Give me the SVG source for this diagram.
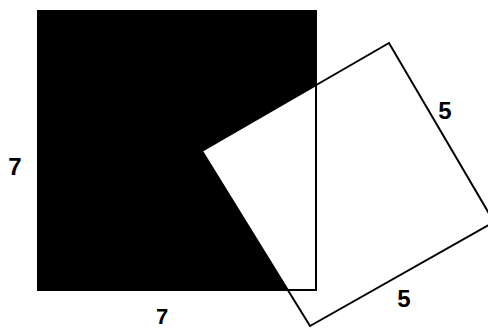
<svg xmlns="http://www.w3.org/2000/svg" width="488" height="329" viewBox="0 0 488 329">
<style>
.lbl{font-family:"Liberation Sans",Arial,sans-serif;font-weight:bold;font-size:24px;fill:#000;text-anchor:middle}
.edge{fill:none;stroke:#000;stroke-width:2}
</style>
<rect width="488" height="329" fill="#fff"/>
<g id="blackSquare">
<rect x="37" y="10" width="279" height="280" fill="#000"/>
</g>
<g id="whiteSquare">
<polygon points="202,151 389,43 494,222 310,326" fill="#fff" stroke="#000" stroke-width="2"/>
</g>
<g id="connectors">
<polyline class="edge" points="316,10 316,290 37,290" stroke-width="1.5"/>
</g>
<g id="labels">
<text class="lbl" x="15" y="175">7</text>
<text class="lbl" x="162" y="324" style="font-size:22px">7</text>
<text class="lbl" x="445" y="119">5</text>
<text class="lbl" x="404" y="307">5</text>
</g>
</svg>
